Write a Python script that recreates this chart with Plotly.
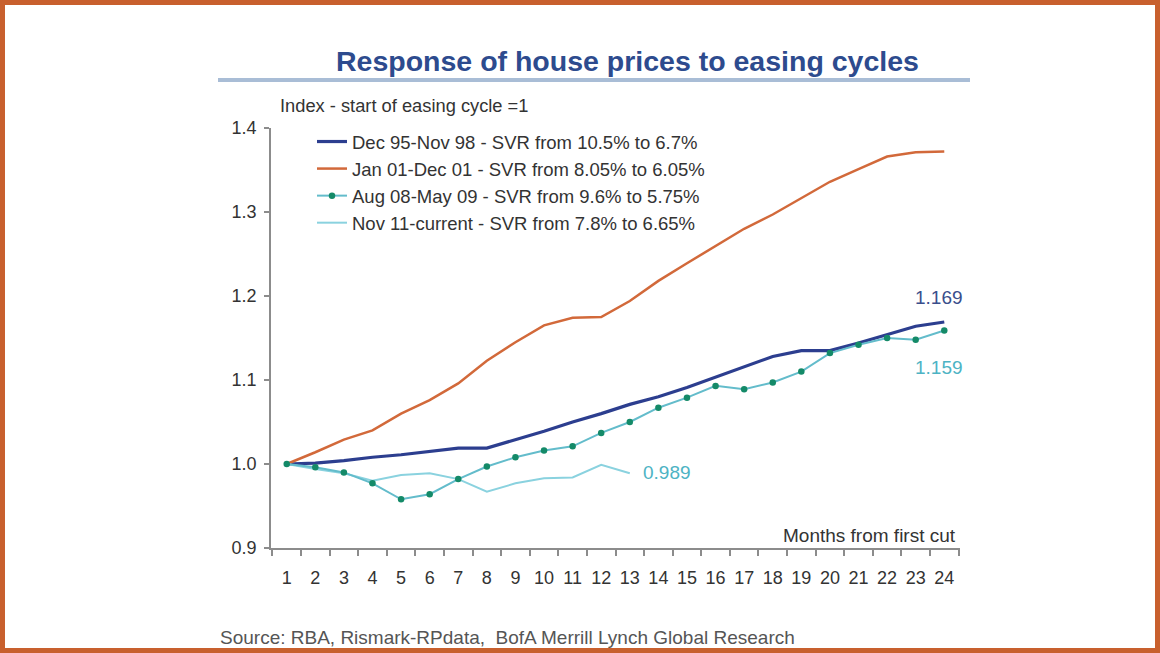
import plotly.graph_objects as go

months = list(range(1, 25))
tick_labels = [str(m) for m in months]

dec95 = [1.000, 1.001, 1.004, 1.008, 1.011, 1.015, 1.019, 1.019, 1.029, 1.039, 1.050, 1.060,
         1.071, 1.080, 1.091, 1.103, 1.116, 1.128, 1.135, 1.135, 1.144, 1.154, 1.164, 1.169]
jan01 = [1.000, 1.014, 1.029, 1.040, 1.060, 1.076, 1.096, 1.123, 1.145, 1.165, 1.174, 1.175,
         1.194, 1.218, 1.239, 1.259, 1.280, 1.297, 1.317, 1.336, 1.351, 1.366, 1.371, 1.372]
aug08 = [1.000, 0.996, 0.990, 0.977, 0.958, 0.964, 0.982, 0.997, 1.008, 1.016, 1.021, 1.037,
         1.050, 1.067, 1.079, 1.093, 1.089, 1.097, 1.110, 1.132, 1.142, 1.150, 1.148, 1.159]
nov11 = [1.000, 0.994, 0.989, 0.980, 0.987, 0.989, 0.982, 0.967, 0.977, 0.983, 0.984, 0.999, 0.989]

names = ["Dec 95-Nov 98 - SVR from 10.5% to 6.7%",
         "Jan 01-Dec 01 - SVR from 8.05% to 6.05%",
         "Aug 08-May 09 - SVR from 9.6% to 5.75%",
         "Nov 11-current - SVR from 7.8% to 6.65%"]

FONT = "Liberation Sans Narrow, Arial Narrow, Liberation Sans, Arial, sans-serif"
BLUE = "#2C3E8F"
ORANGE = "#D2693A"
TEAL = "#63BCCB"
GREEN = "#148A68"
LIGHT = "#8AD2DF"

fig = go.Figure()
fig.add_trace(go.Scatter(x=months, y=dec95, name=names[0], mode="lines",
                         line=dict(color=BLUE, width=3.2), legendrank=1))
fig.add_trace(go.Scatter(x=months, y=jan01, name=names[1], mode="lines",
                         line=dict(color=ORANGE, width=2.5), legendrank=2))
fig.add_trace(go.Scatter(x=months[:len(nov11)], y=nov11, name=names[3], mode="lines",
                         line=dict(color=LIGHT, width=2), legendrank=4))
fig.add_trace(go.Scatter(x=months, y=aug08, name=names[2], mode="lines+markers",
                         line=dict(color=TEAL, width=2),
                         marker=dict(color=GREEN, size=6.5), legendrank=3))

# plot area in pixels
L, R, T, B = 271, 200, 128, 105
W, H = 1160, 653
pw, ph = W - L - R, H - T - B

def px(x):
    return (x - L) / pw

def py(y):
    return (H - B - y) / ph

fig.update_layout(
    width=W, height=H,
    margin=dict(l=L, r=R, t=T, b=B),
    paper_bgcolor="white", plot_bgcolor="white",
    font=dict(family=FONT, size=18, color="#333333"),
    showlegend=True,
    legend=dict(x=px(312), y=py(123), xanchor="left", yanchor="top",
                bgcolor="rgba(0,0,0,0)", font=dict(size=18.5, color="#333333"),
                tracegroupgap=0, itemwidth=30),
    xaxis=dict(range=[0.45, 24.55], tickmode="array", tickvals=months, ticktext=tick_labels,
               ticks="", showline=True, linecolor="#8C8C8C", linewidth=1.5,
               showgrid=False, zeroline=False, ticklabelstandoff=13,
               tickfont=dict(size=18, color="#333333"),
               minor=dict(tickmode="array", tickvals=[m + 0.5 for m in [0] + months],
                          ticks="outside", ticklen=6, tickcolor="#8C8C8C", tickwidth=1.5)),
    yaxis=dict(range=[0.9, 1.4], tickmode="array", tickvals=[0.9, 1.0, 1.1, 1.2, 1.3, 1.4],
               tickformat=".1f", ticks="outside", ticklen=5, tickcolor="#8C8C8C", tickwidth=1.5,
               showline=True, linecolor="#8C8C8C", linewidth=1.5,
               showgrid=False, zeroline=False, ticklabelstandoff=4,
               tickfont=dict(size=18, color="#333333")),
)

annotations = [
    dict(text="<b>Response of house prices to easing cycles</b>", x=px(627), y=py(61),
         xref="paper", yref="paper", showarrow=False, xanchor="center", yanchor="middle",
         font=dict(size=28.5, color="#2D4B8E", family=FONT)),
    dict(text="Index - start of easing cycle =1", x=px(278), y=py(106),
         xref="paper", yref="paper", showarrow=False, xanchor="left", yanchor="middle",
         font=dict(size=18.3, color="#333333")),
    dict(text="Months from first cut", x=px(958), y=py(535),
         xref="paper", yref="paper", showarrow=False, xanchor="right", yanchor="middle",
         font=dict(size=19, color="#333333")),
    dict(text="Source: RBA, Rismark-RPdata,  BofA Merrill Lynch Global Research", x=px(218), y=py(637),
         xref="paper", yref="paper", showarrow=False, xanchor="left", yanchor="middle",
         font=dict(size=19, color="#555555")),
    dict(text="1.372", x=23.8, y=1.414, xref="x", yref="y", showarrow=False,
         font=dict(size=19, color=ORANGE)),
    dict(text="1.169", x=23.8, y=1.198, xref="x", yref="y", showarrow=False,
         font=dict(size=19, color="#3A4E8C")),
    dict(text="1.159", x=23.8, y=1.115, xref="x", yref="y", showarrow=False,
         font=dict(size=19, color="#4DB3C4")),
    dict(text="0.989", x=14.3, y=0.990, xref="x", yref="y", showarrow=False,
         font=dict(size=19, color="#4DB3C4")),
]
fig.update_layout(annotations=annotations)

shapes = [
    dict(type="line", xref="paper", yref="paper", x0=px(218), x1=px(970), y0=py(80), y1=py(80),
         line=dict(color="#A9BDD6", width=4)),
    dict(type="rect", xref="paper", yref="paper", x0=px(2.5), x1=px(1157.5), y0=py(2.5), y1=py(650.5),
         line=dict(color="#C8602E", width=5), fillcolor="rgba(0,0,0,0)"),
]
fig.update_layout(shapes=shapes)

fig.write_html("out.html", config={"displayModeBar": False},
               post_script="document.body.style.margin='0';document.body.style.padding='0';"
                           "document.documentElement.style.overflow='hidden';")
